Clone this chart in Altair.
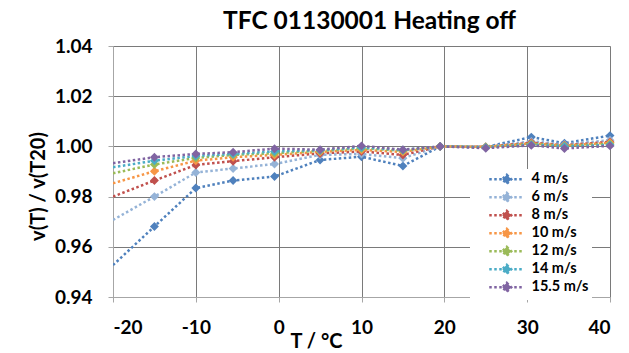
import altair as alt
import pandas as pd

# ---- data ----
temps = [-20, -15, -10, -5.5, -0.5, 5, 10, 15, 19.5, 25, 30.5, 34.5, 40]
series_names = ["4 m/s", "6 m/s", "8 m/s", "10 m/s", "12 m/s", "14 m/s", "15.5 m/s"]
v_4 = [0.9527, 0.9681, 0.9834, 0.9864, 0.9880, 0.9946, 0.9959, 0.9922, 1.0000, 0.9998, 1.0037, 1.0013, 1.0043]
v_6 = [0.9707, 0.9800, 0.9896, 0.9912, 0.9930, 0.9966, 0.9970, 0.9953, 1.0000, 0.9998, 1.0020, 1.0008, 1.0025]
v_8 = [0.9800, 0.9864, 0.9926, 0.9941, 0.9957, 0.9972, 0.9980, 0.9966, 1.0000, 0.9998, 1.0015, 1.0005, 1.0018]
v_10 = [0.9853, 0.9901, 0.9943, 0.9957, 0.9966, 0.9978, 0.9986, 0.9978, 1.0000, 0.9998, 1.0012, 1.0003, 1.0015]
v_12 = [0.9893, 0.9928, 0.9954, 0.9966, 0.9973, 0.9982, 0.9992, 0.9983, 1.0000, 0.9997, 1.0010, 1.0002, 1.0010]
v_14 = [0.9917, 0.9943, 0.9962, 0.9970, 0.9980, 0.9985, 0.9996, 0.9986, 1.0000, 0.9996, 1.0007, 1.0000, 1.0006]
v_155 = [0.9933, 0.9957, 0.9970, 0.9977, 0.9991, 0.9987, 1.0002, 0.9987, 1.0000, 0.9993, 1.0004, 0.9992, 1.0002]
series_colors = ["#4F81BD", "#95B3D7", "#C0504D", "#F79646", "#9BBB59", "#4BACC6", "#8064A2"]
x_ticks = [-20, -10, 0, 10, 20, 30, 40]
y_ticks = [0.94, 0.96, 0.98, 1.00, 1.02, 1.04]

all_vals = [v_4, v_6, v_8, v_10, v_12, v_14, v_155]
rows = []
for i, (name, vals) in enumerate(zip(series_names, all_vals)):
    for t, v in zip(temps, vals):
        rows.append({"T": t, "v": v, "series": name, "order": i})
df = pd.DataFrame(rows)

FONT = "Lato"
scale = alt.Scale(domain=series_names, range=series_colors)
legend = alt.Legend(
    title=None,
    orient="none",
    legendX=357,
    legendY=123,
    direction="vertical",
    fillColor="white",
    padding=3,
    symbolType="M1.8,0L8.8,0M5.3,-0.9L6.2,0L5.3,0.9L4.4,0Z",
    symbolSize=100,
    symbolStrokeWidth=2.5,
    symbolDash=[2.5, 2.5],
    labelFont=FONT,
    labelFontWeight="bold",
    labelFontSize=14.5,
    labelColor="black",
    labelOffset=44,
    rowPadding=-2,
)

x_enc = alt.X(
    "T:Q",
    scale=alt.Scale(domain=[-20, 40], nice=False, zero=False),
    axis=alt.Axis(
        values=x_ticks,
        labelExpr="datum.value + ''",
        title="T / °C",
        titleX=203,
        titleY=50,
        titleAlign="center",
        titleBaseline="alphabetic",
        titleFont=FONT,
        titleFontSize=20,
        titleFontWeight="bold",
        titleColor="black",
        labelFont=FONT,
        labelFontSize=19,
        labelFontWeight="bold",
        labelColor="black",
        labelPadding=16,
        tickSize=5,
        tickColor="#a6a6a6",
        domainColor="#a6a6a6",
        gridColor="#7a7a7a",
        grid=True,
    ),
)
y_enc = alt.Y(
    "v:Q",
    scale=alt.Scale(domain=[0.94, 1.04], nice=False, zero=False),
    axis=alt.Axis(
        values=y_ticks,
        format=".2f",
        title="v(T) / v(T20)",
        titleX=-75,
        titleY=140,
        titleAngle=-90,
        titleAlign="center",
        titleBaseline="middle",
        titleFont=FONT,
        titleFontSize=20,
        titleFontWeight="bold",
        titleColor="black",
        labelFont=FONT,
        labelFontSize=19,
        labelFontWeight="bold",
        labelColor="black",
        labelPadding=16,
        tickSize=5,
        tickColor="#a6a6a6",
        domainColor="#a6a6a6",
        gridColor="#7a7a7a",
        grid=True,
    ),
)

base = alt.Chart(df)
lines = base.mark_line(strokeDash=[2.5, 2.5], strokeWidth=2.5, clip=True).encode(
    x=x_enc,
    y=y_enc,
    stroke=alt.Stroke("series:N", scale=scale, legend=legend, sort=series_names),
    order=alt.Order("T:Q"),
)
points = base.transform_filter("datum.T > -20").mark_point(
    shape="diamond", filled=True, size=80, opacity=1
).encode(
    x=x_enc,
    y=y_enc,
    fill=alt.Fill("series:N", scale=scale, legend=legend, sort=series_names),
)

chart = alt.layer(lines, points).properties(
    width=497,
    height=251,
    autosize=alt.AutoSizeParams(type="none"),
    padding={"left": 113, "top": 46, "right": 19, "bottom": 56},
    title=alt.TitleParams(
        "TFC 01130001 Heating off",
        font=FONT,
        fontSize=24.5,
        fontWeight="bold",
        color="black",
        anchor="middle",
        baseline="alphabetic",
        offset=13,
        dx=8,
        dy=29,
    ),
).configure_view(stroke=None).configure(background="white")

chart.save("out.html", embed_options={"renderer": "svg", "actions": False})
